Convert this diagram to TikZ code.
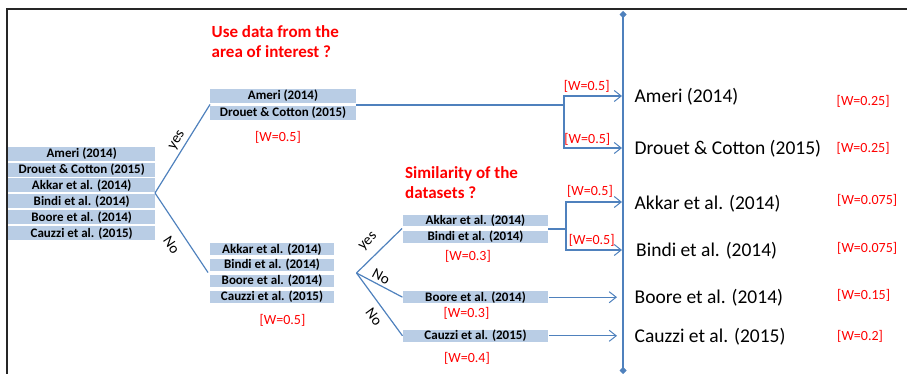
\documentclass[tikz,border=0pt]{standalone}
\usepackage{fontspec}
\setmainfont{Carlito}
\usetikzlibrary{arrows.meta}
\definecolor{boxblue}{HTML}{B9CDE5}
\definecolor{lineblue}{HTML}{4F81BD}
\definecolor{wred}{HTML}{FF0000}
\begin{document}
\begin{tikzpicture}[x=1pt,y=-1pt,
  box/.style={fill=boxblue,inner sep=0pt,font=\bfseries\fontsize{13}{13}\selectfont,text=black},
  lbox/.style={box,minimum width=146.7pt,minimum height=14pt},
  ubox/.style={box,minimum width=146pt,minimum height=13.5pt},
  dbox/.style={box,minimum width=124pt,minimum height=12pt},
  tbox/.style={box,minimum width=145.6pt,minimum height=11.5pt},
  conn/.style={draw=lineblue,line width=1.2pt},
  arr/.style={conn,-{Straight Barb[length=7pt,width=11pt,line width=1pt]}},
  wlab/.style={text=wred,font=\fontsize{14}{14}\selectfont,inner sep=0pt},
  rwlab/.style={wlab,anchor=west},
  res/.style={anchor=west,inner sep=0pt,font=\fontsize{19.5}{20}\selectfont},
  qtitle/.style={text=wred,font=\bfseries\fontsize{17}{20}\selectfont,align=left,anchor=west,inner sep=0pt},
  branch/.style={font=\fontsize{15}{15}\selectfont,inner sep=0pt}]
\useasboundingbox (0,0) rectangle (907,374);
\draw[line width=2pt, black!85] (7,374) -- (7,9) -- (907,9);

% left column
\node[lbox] (L1) at (81.7,153.7) {Ameri (2014)};
\node[lbox] (L2) at (81.7,169.6) {Drouet \& Cotton (2015)};
\node[lbox] (L3) at (81.7,185.5) {Akkar et al. (2014)};
\node[lbox] (L4) at (81.7,201.4) {Bindi et al. (2014)};
\node[lbox] (L5) at (81.7,217.3) {Boore et al. (2014)};
\node[lbox] (L6) at (81.7,233.2) {Cauzzi et al. (2015)};

% column 2 upper
\node[ubox] (U1) at (283,96) {Ameri (2014)};
\node[ubox] (U2) at (283,113) {Drouet \& Cotton (2015)};
% column 2 lower
\node[dbox] (D1) at (272,249.2) {Akkar et al. (2014)};
\node[dbox] (D2) at (272,265) {Bindi et al. (2014)};
\node[dbox] (D3) at (272,280.5) {Boore et al. (2014)};
\node[dbox] (D4) at (272,296.7) {Cauzzi et al. (2015)};
% column 3
\node[tbox] (C1) at (475.5,220.5) {Akkar et al. (2014)};
\node[tbox] (C2) at (475.5,236.8) {Bindi et al. (2014)};
\node[tbox] (C3) at (475.5,297.2) {Boore et al. (2014)};
\node[tbox] (C4) at (475.5,335.8) {Cauzzi et al. (2015)};

% titles
\node[qtitle] (q1) at (211.5,41.7) {Use data from the\\area of interest ?};
\node[qtitle] (q2) at (405,182.7) {Similarity of the\\datasets ?};

% first fork
\coordinate (f1) at (155,193);
\coordinate (u12) at (210,104.5);
\coordinate (d23) at (208,272.5);
\draw[conn] (f1) -- (u12);
\draw[conn] (f1) -- (d23);
\node[branch,rotate=58] (y1) at (177.5,140.5) {yes};
\node[branch,rotate=-56] (n1) at (171.5,245.5) {No};

% second fork
\coordinate (f2) at (356.5,273);
\coordinate (c12) at (402,228.5);
\draw[conn] (f2) -- (c12);
\draw[conn] (f2) -- (C3.west);
\draw[conn] (f2) -- (C4.west);
\node[branch,rotate=45] (y2) at (368.5,242) {yes};
\node[branch,rotate=-28] (n2) at (381,276.5) {No};
\node[branch,rotate=-54] (n3) at (374,316.5) {No};

% vertical line
\coordinate (vt) at (623,11);
\coordinate (vb) at (623,374);
\draw[conn,{Diamond[length=7pt,width=7pt,fill=lineblue,line width=0.5pt]}-{Diamond[length=7pt,width=7pt,fill=lineblue,line width=0.5pt]}] (vt) -- (vb);

% upper connection
\coordinate (ue) at (356,105);
\coordinate (uj) at (564,105);
\coordinate (a1) at (622,96);
\coordinate (a2) at (622,148);
\draw[conn] (ue) -- (uj);
\draw[arr] (uj) |- (a1);
\draw[arr] (uj) |- (a2);

% middle connection
\coordinate (me) at (548.3,229);
\coordinate (mj) at (566,229);
\coordinate (a3) at (622,202);
\coordinate (a4) at (622,250);
\draw[conn] (me) -- (mj);
\draw[arr] (mj) |- (a3);
\draw[arr] (mj) |- (a4);

% lower arrows
\coordinate (a5) at (617,297.2);
\coordinate (a6) at (617,335.8);
\draw[arr] (C3.east) -- (a5);
\draw[arr] (C4.east) -- (a6);

% weights
\node[wlab] (w1) at (278,137.3) {[W=0.5]};
\node[wlab] (w2) at (282.5,320) {[W=0.5]};
\node[wlab] (w3) at (468,256) {[W=0.3]};
\node[wlab] (w4) at (466.5,313.3) {[W=0.3]};
\node[wlab] (w5) at (467,358.3) {[W=0.4]};
\node[wlab] (w6) at (586.7,86) {[W=0.5]};
\node[wlab] (w7) at (587.3,139) {[W=0.5]};
\node[wlab] (w8) at (590,191.7) {[W=0.5]};
\node[wlab] (w9) at (591.7,240.7) {[W=0.5]};

% results
\node[res] (R1) at (634.5,96.7) {Ameri (2014)};
\node[res] (R2) at (634.5,148.3) {Drouet \& Cotton (2015)};
\node[res] (R3) at (634.5,203.3) {Akkar et al. (2014)};
\node[res] (R4) at (636,251) {Bindi et al. (2014)};
\node[res] (R5) at (634.5,297.3) {Boore et al. (2014)};
\node[res] (R6) at (634.5,336.7) {Cauzzi et al. (2015)};

\node[rwlab] (rw1) at (836.5,101.7) {[W=0.25]};
\node[rwlab] (rw2) at (836.5,148) {[W=0.25]};
\node[rwlab] (rw3) at (837,200.7) {[W=0.075]};
\node[rwlab] (rw4) at (837,248.3) {[W=0.075]};
\node[rwlab] (rw5) at (837,295) {[W=0.15]};
\node[rwlab] (rw6) at (837,336.7) {[W=0.2]};
\end{tikzpicture}
\end{document}
